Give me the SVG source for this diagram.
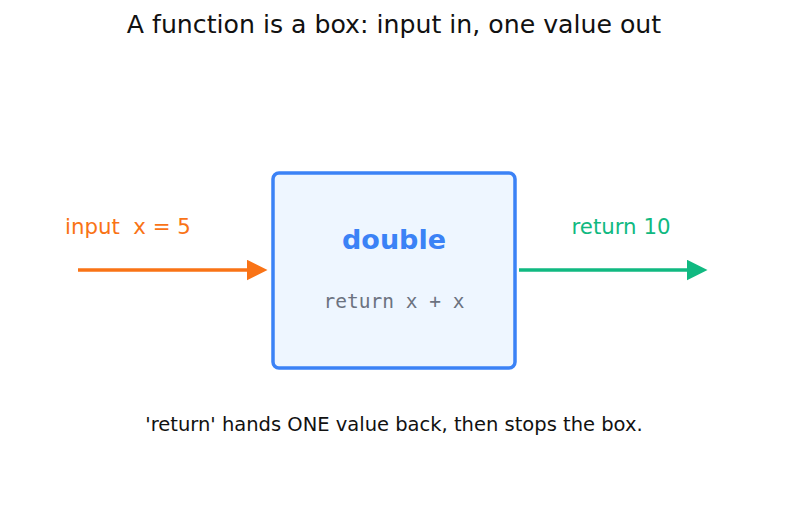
<svg xmlns="http://www.w3.org/2000/svg" width="787" height="511" viewBox="0 0 787 511">
<style>
text{font-family:"DejaVu Sans","Liberation Sans",sans-serif}
.title{font-size:25.2px;fill:#111}
.cap{font-size:19.5px;fill:#111}
.lbl{font-size:21.3px}
.mono{font-family:"DejaVu Sans Mono","Liberation Mono",monospace;font-size:19.5px;fill:#6b7280}
</style>
<defs>
<marker id="ao" markerWidth="6" markerHeight="6" refX="1" refY="3" orient="auto" markerUnits="strokeWidth" viewBox="0 0 6 6"><path d="M0,0 L6,3 L0,6 z" fill="#f97316"/></marker>
<marker id="ag" markerWidth="6" markerHeight="6" refX="1" refY="3" orient="auto" markerUnits="strokeWidth" viewBox="0 0 6 6"><path d="M0,0 L6,3 L0,6 z" fill="#10b981"/></marker>
</defs>
<rect width="787" height="511" fill="#fff"/>
<text class="title" x="394" y="33" text-anchor="middle">A function is a box: input in, one value out</text>
<g id="connectors">
<line x1="78" y1="270" x2="250" y2="270" stroke="#f97316" stroke-width="3.5" marker-end="url(#ao)"/>
<line x1="519" y1="270" x2="690" y2="270" stroke="#10b981" stroke-width="3.5" marker-end="url(#ag)"/>
</g>
<g id="input-label"><text class="lbl" x="65" y="234" fill="#f97316" xml:space="preserve">input  x = 5</text></g>
<g id="output-label"><text class="lbl" x="621" y="234" fill="#10b981" text-anchor="middle">return 10</text></g>
<g id="box">
<rect x="273" y="173" width="242" height="195" rx="6" fill="#eef6ff" stroke="#3b82f6" stroke-width="3.5"/>
<text x="394" y="249" text-anchor="middle" font-size="27" font-weight="bold" fill="#3b82f6">double</text>
<text class="mono" x="394" y="308" text-anchor="middle">return x + x</text>
</g>
<text class="cap" x="394" y="431" text-anchor="middle">'return' hands ONE value back, then stops the box.</text>
</svg>
